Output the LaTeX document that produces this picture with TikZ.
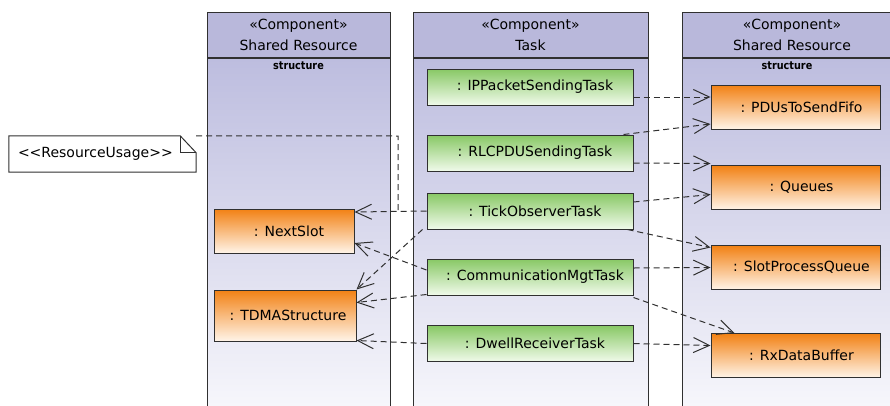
\documentclass[tikz,border=0pt]{standalone}
\usepackage{fontspec}
\setmainfont{DejaVu Sans}
\newfontfamily\narrowsans[FakeStretch=0.88]{DejaVu Sans}
\usepackage{tikz}
\usetikzlibrary{arrows.meta, positioning}
\usepackage{xcolor}
\definecolor{hdrblue}{HTML}{B9B8DB}
\definecolor{bodytop}{HTML}{BDBDDF}
\definecolor{bodybot}{HTML}{F8F8FC}
\definecolor{taskgreen}{HTML}{88C865}
\definecolor{taskpale}{HTML}{F0FAEA}
\definecolor{resorange}{HTML}{F28114}
\definecolor{respale}{HTML}{FFF4E8}
\definecolor{edge}{HTML}{303030}

\tikzset{
  colhead/.style={draw=edge, fill=hdrblue, line width=1pt, minimum width=#1, minimum height=45pt, align=center, inner sep=0pt, font=\fontsize{14}{21}\selectfont},
  colbody/.style={draw=edge, top color=bodytop, bottom color=bodybot, line width=1pt, minimum width=#1, minimum height=360pt, inner sep=0pt},
  structlbl/.style={font=\narrowsans\bfseries\fontsize{11}{12}\selectfont, inner sep=1pt, anchor=north, yshift=-3pt},
  taskbox/.style={draw=edge, top color=taskgreen, bottom color=taskpale, line width=1pt, minimum width=206pt, minimum height=36pt, inner sep=0pt, font=\fontsize{14}{16}\selectfont},
  resbox/.style={draw=edge, top color=resorange, bottom color=respale, line width=1pt, minimum width=#1, minimum height=44pt, inner sep=0pt, font=\fontsize{14}{16}\selectfont},
  usearrow/.style={draw=edge, line width=1pt, dash pattern=on 6pt off 4pt, -{Straight Barb[length=16pt, width=15pt, line width=1pt]}}
}

\begin{document}
\begin{tikzpicture}[x=1pt, y=-1pt]
  \useasboundingbox (0,0) rectangle (890,405);
  \clip (0,0) rectangle (890,405);

  % columns
  \node[colhead=183pt] (hl) at (298.5,34.5) {«Component»\\Shared Resource};
  \node[colbody=183pt, below=0pt of hl] (bl) {};
  \node[colhead=235pt] (hm) at (530.5,34.5) {«Component»\\Task};
  \node[colbody=235pt, below=0pt of hm] (bm) {};
  \node[colhead=220pt] (hr) at (792,34.5) {«Component»\\Shared Resource};
  \node[colbody=220pt, below=0pt of hr] (br) {};
  \node[structlbl] (strl) at (bl.north) {structure};
  \node[structlbl] (strr) at ([xshift=-5pt]br.north) {structure};

  % note
  \node[minimum height=36pt, text width=169pt, inner xsep=9pt, inner ysep=0pt, align=left, font=\fontsize{14}{16}\selectfont] (note) at (102.5,154) {<{}<ResourceUsage>{}>};
  \draw[draw=edge, line width=1pt] (note.north west) -- ([xshift=-16pt]note.north east) -- ([yshift=-17pt]note.north east) -- (note.south east) -- (note.south west) -- cycle;
  \draw[draw=edge, line width=1pt] ([xshift=-16pt]note.north east) -- ([xshift=-16pt, yshift=-17pt]note.north east) -- ([yshift=-17pt]note.north east);

  % shared resources, left
  \node[resbox=140pt] (nextslot) at (284,231) {\hspace{10pt}: NextSlot};
  \node[resbox=142pt, minimum height=51pt] (tdma) at (285,315.5) {\hspace{6pt}: TDMAStructure};

  % tasks
  \node[taskbox] (ipsend) at (530,87) {\hspace{10pt}: IPPacketSendingTask};
  \node[taskbox] (rlcsend) at (530,153) {\hspace{10pt}: RLCPDUSendingTask};
  \node[taskbox] (tickobs) at (530,211) {\hspace{10pt}: TickObserverTask};
  \node[taskbox] (commmgt) at (530,277) {\hspace{10pt}: CommunicationMgtTask};
  \node[taskbox] (dwellrx) at (530,343.5) {\hspace{10pt}: DwellReceiverTask};

  % shared resources, right
  \node[resbox=169pt] (pdufifo) at (795.5,107) {\hspace{12pt}: PDUsToSendFifo};
  \node[resbox=169pt] (queues) at (795.5,187.5) {\hspace{12pt}: Queues};
  \node[resbox=169pt] (slotq) at (795.5,267.5) {\hspace{12pt}: SlotProcessQueue};
  \node[resbox=169pt] (rxbuf) at (795.5,355.5) {\hspace{12pt}: RxDataBuffer};

  % usage links
  \coordinate (ncorner) at (398,136);
  \draw[draw=edge, line width=1pt, dash pattern=on 6pt off 4pt] (note.north east) -- (ncorner) -- (ncorner |- tickobs.west);

  \draw[usearrow] ([yshift=-10pt]ipsend.east) -- ([yshift=10pt]pdufifo.west);
  \draw[usearrow] ([xshift=-10pt]rlcsend.north east) -- ([yshift=-17pt]pdufifo.west);
  \draw[usearrow] ([yshift=-10pt]rlcsend.east) -- ([yshift=24pt]queues.west);
  \draw[usearrow] ([yshift=9pt]tickobs.east) -- ([yshift=-7pt]queues.west);
  \draw[usearrow] ([xshift=-6pt]tickobs.south east) -- ([yshift=20pt]slotq.west);
  \draw[usearrow] ([yshift=9pt]commmgt.east) -- (slotq.west);
  \draw[usearrow] ([yshift=-2pt]commmgt.south east) -- ([xshift=24pt]rxbuf.north west);
  \draw[usearrow] (dwellrx.east) -- ([yshift=10pt]rxbuf.west);

  \draw[usearrow] (tickobs.west) -- ([yshift=19pt]nextslot.east);
  \draw[usearrow] ([yshift=7pt]commmgt.west) -- ([yshift=-12pt]nextslot.east);
  \draw[usearrow] ([xshift=-4pt]tickobs.south west) -- (tdma.north east);
  \draw[usearrow] ([yshift=1pt]commmgt.south west) -- ([yshift=13pt]tdma.east);
  \draw[usearrow] (dwellrx.west) -- ([yshift=-25pt]tdma.east);
\end{tikzpicture}
\end{document}
